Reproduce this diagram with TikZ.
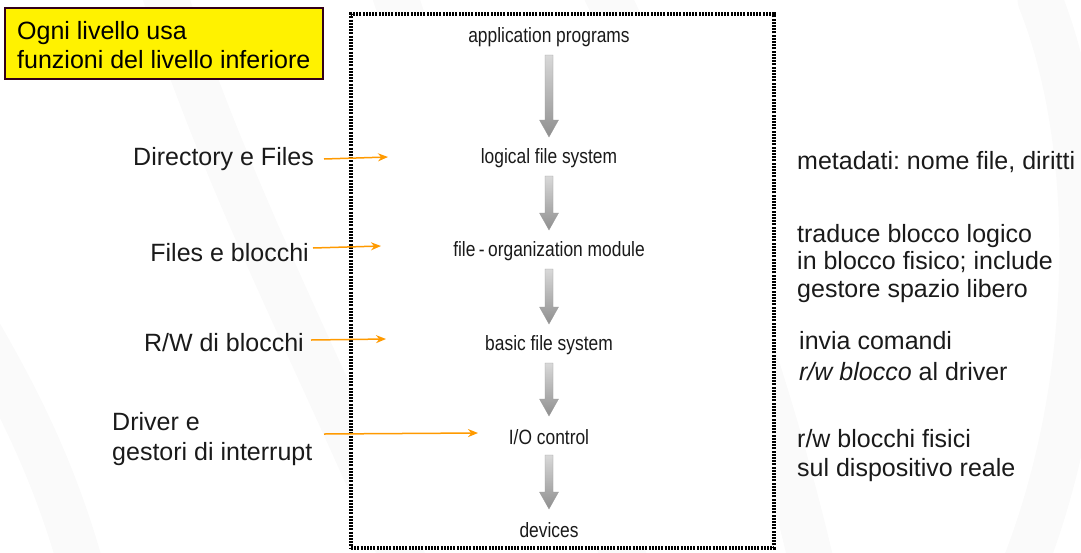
\documentclass[tikz,border=0pt]{standalone}
\usepackage{fontspec}
\setmainfont{Liberation Sans}
\newfontfamily\narrowfont[FakeStretch=0.84]{Liberation Sans}
\usetikzlibrary{calc,arrows.meta}
\frenchspacing
\definecolor{boxborder}{HTML}{330019}
\definecolor{arrorange}{HTML}{FF9A00}
\definecolor{txt}{HTML}{1A1A1A}
\tikzset{
  layer/.style={font=\narrowfont\fontsize{20.7}{24}\selectfont, text=txt, inner sep=0pt},
  side/.style={font=\fontsize{25}{28}\selectfont, text=txt, inner sep=0pt, align=left},
  oarrow/.style={draw=arrorange, line width=1.5pt, -{Stealth[length=10pt,width=8pt]}},
  swoosh/.style={draw=gray!4, line width=45pt, line cap=round}
}
\newcommand\fsarrow[2]{%
  \path let \p1=(#1.center), \p2=(#2.center) in
    [shade, top color=gray!30, bottom color=gray!88, draw=gray!80, line width=0.3pt]
    ({\x1-4pt},{\y1-18pt}) -- ({\x1+4pt},{\y1-18pt}) -- ({\x1+4pt},{\y2+38pt}) --
    ({\x1+9.5pt},{\y2+38pt}) -- ({\x1},{\y2+21pt}) -- ({\x1-9.5pt},{\y2+38pt}) --
    ({\x1-4pt},{\y2+38pt}) -- cycle;}
\begin{document}
\begin{tikzpicture}[x=1pt,y=-1pt]
\useasboundingbox (0,0) rectangle (1081,552);
% faint background swooshes
\begin{scope}
\clip (0,0) rectangle (1081,552);
\draw[swoosh] (160,-20) .. controls (230,200) and (330,380) .. (420,600);
\draw[swoosh] (390,-20) .. controls (460,200) and (560,380) .. (640,600);
\draw[swoosh] (600,-20) .. controls (680,150) and (760,330) .. (820,600);
\draw[swoosh] (1040,0) .. controls (1100,150) and (1100,400) .. (1010,600);
\draw[swoosh] (-40,300) .. controls (20,400) and (60,480) .. (90,600);
\end{scope}
% yellow note
\node[draw=boxborder, line width=1.6pt, fill=yellow, minimum width=318pt, minimum height=71pt,
      inner sep=0pt] (note) at (164,43.5) {};
\node[side, anchor=west, text=black, font=\fontsize{25}{29}\selectfont] (notetxt) at (17,45.5) {Ogni livello usa\\funzioni del livello inferiore};
% dotted frame
\node[draw=black, line width=3.5pt, dash pattern=on 2pt off 1.2pt, fill=white,
      minimum width=423pt, minimum height=534pt, inner sep=0pt] (frame) at (562.5,281) {};
% layers
\node[layer] (app) at (549,37) {application programs};
\node[layer] (lfs) at (549,158) {logical file system};
\node[layer] (fom) at (549,251) {file\,-\,organization module};
\node[layer] (bfs) at (549,345) {basic file system};
\node[layer] (ioc) at (549,437) {I/O control};
\node[layer] (dev) at (549,530) {devices};
\fsarrow{app}{lfs}
\fsarrow{lfs}{fom}
\fsarrow{fom}{bfs}
\fsarrow{bfs}{ioc}
\fsarrow{ioc}{dev}
% left labels
\node[side, anchor=east] (l1) at (314,159) {Directory e Files};
\node[side, anchor=east] (l2) at (309,253) {Files e blocchi};
\node[side, anchor=east] (l3) at (304,343) {R/W di blocchi};
\node[side, anchor=west, font=\fontsize{25}{30}\selectfont] (l4) at (112,439) {Driver e\\gestori di interrupt};
\coordinate (e1) at (388,157);
\coordinate (e2) at (381,246);
\coordinate (e3) at (386,339);
\coordinate (e4) at (478,433);
\draw[oarrow] (324,159) -- (e1);
\draw[oarrow] (313,248) -- (e2);
\draw[oarrow] (311,340) -- (e3);
\draw[oarrow] (324,434) -- (e4);
% right descriptions
\node[side, anchor=west] (r1) at (797,162) {metadati: nome file, diritti};
\node[side, anchor=west, font=\fontsize{25}{27.5}\selectfont] (r2) at (797,263.5) {traduce blocco logico\\in blocco fisico; include\\gestore spazio libero};
\node[side, anchor=west, font=\fontsize{25}{31}\selectfont] (r3) at (799,356.5) {invia comandi\\\textit{r/w blocco} al driver};
\node[side, anchor=west, font=\fontsize{25}{29}\selectfont] (r4) at (797,455.5) {r/w blocchi fisici\\sul dispositivo reale};
\end{tikzpicture}
\end{document}
